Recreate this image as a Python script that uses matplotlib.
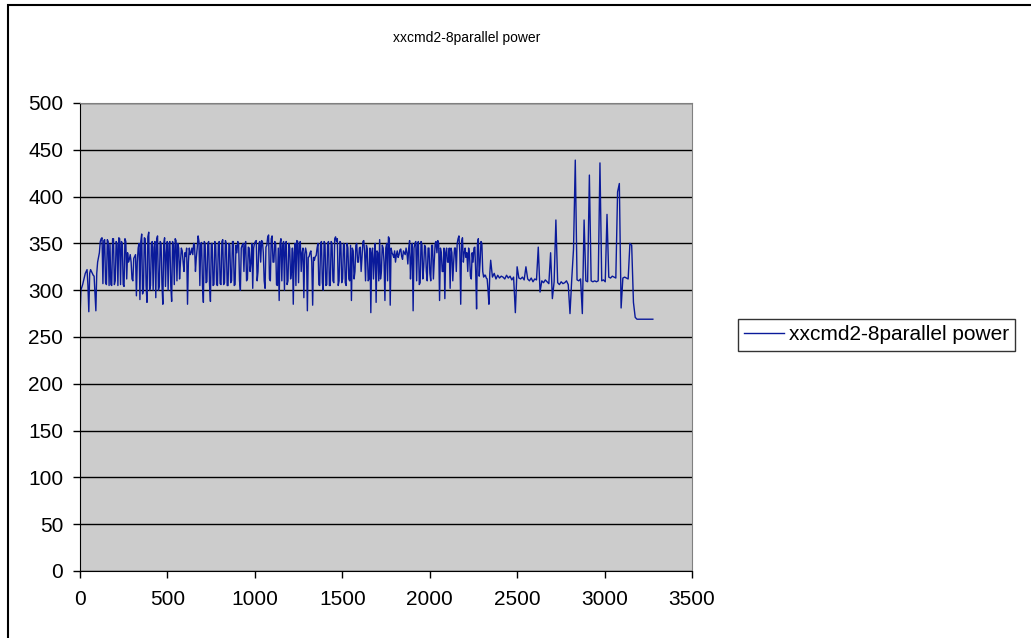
import numpy as np
import matplotlib
matplotlib.use("Agg")
import matplotlib.pyplot as plt
from matplotlib.patches import Rectangle

title = "xxcmd2-8parallel power"
series_name = "xxcmd2-8parallel power"
x_ticks = [0, 500, 1000, 1500, 2000, 2500, 3000, 3500]
y_ticks = [0, 50, 100, 150, 200, 250, 300, 350, 400, 450, 500]
time_scale = 1.008

# busy phase, sampled every 5 s (0 .. 2330)
busy_power = [
    268, 300, 303, 306, 310, 314, 318, 320, 322, 305, 277, 318, 322, 320, 318, 316, 315, 296, 278, 318,
    330, 335, 340, 352, 355, 356, 307, 353, 354, 308, 306, 354, 352, 305, 349, 306, 305, 355, 355, 306,
    310, 352, 350, 305, 356, 355, 306, 352, 350, 306, 304, 355, 352, 312, 340, 330, 333, 338, 330, 312,
    310, 334, 336, 338, 294, 330, 345, 350, 290, 352, 360, 296, 300, 356, 355, 305, 287, 357, 362, 300,
    305, 350, 352, 300, 346, 352, 292, 355, 358, 300, 304, 352, 350, 306, 285, 350, 356, 304, 340, 352,
    300, 350, 352, 305, 288, 352, 348, 306, 355, 353, 310, 350, 345, 312, 330, 345, 342, 330, 320, 340,
    336, 345, 285, 330, 345, 338, 340, 345, 338, 350, 348, 320, 335, 345, 358, 352, 305, 350, 351, 305,
    287, 352, 350, 308, 309, 350, 352, 306, 288, 350, 350, 305, 306, 352, 348, 306, 305, 350, 352, 307,
    306, 352, 354, 306, 308, 353, 350, 305, 305, 350, 348, 308, 310, 352, 352, 305, 306, 348, 340, 352,
    350, 310, 300, 345, 348, 350, 320, 348, 352, 310, 312, 346, 345, 320, 330, 350, 302, 345, 350, 352,
    353, 310, 320, 350, 352, 330, 353, 352, 340, 310, 302, 346, 348, 357, 359, 312, 310, 355, 358, 330,
    330, 352, 350, 306, 305, 345, 289, 350, 355, 310, 348, 352, 300, 350, 352, 306, 310, 350, 345, 312,
    320, 345, 285, 340, 350, 305, 353, 352, 308, 350, 352, 320, 340, 345, 292, 338, 345, 340, 278, 335,
    336, 340, 342, 330, 284, 335, 332, 336, 337, 345, 350, 306, 305, 350, 352, 308, 300, 352, 350, 305,
    306, 350, 352, 305, 305, 352, 350, 310, 308, 355, 357, 352, 355, 305, 310, 352, 350, 308, 312, 350,
    348, 308, 305, 350, 345, 312, 310, 348, 289, 345, 342, 312, 320, 348, 350, 330, 330, 345, 346, 320,
    335, 352, 353, 340, 310, 348, 344, 310, 312, 345, 276, 340, 345, 312, 335, 350, 287, 342, 340, 310,
    354, 312, 320, 348, 345, 330, 289, 345, 350, 310, 357, 355, 284, 345, 340, 338, 335, 342, 330, 338,
    342, 335, 338, 343, 344, 336, 333, 342, 340, 338, 345, 340, 328, 345, 353, 312, 335, 350, 278, 345,
    350, 352, 310, 350, 352, 306, 308, 352, 349, 312, 325, 348, 346, 320, 310, 345, 345, 318, 310, 348,
    348, 312, 330, 350, 352, 340, 353, 350, 289, 345, 340, 320, 320, 345, 291, 340, 345, 330, 330, 345,
    302, 345, 340, 310, 330, 345, 345, 320, 350, 355, 358, 340, 285, 352, 356, 330, 340, 345, 335, 340,
    320, 345, 338, 315, 312, 340, 330, 345, 346, 320, 280, 350, 355, 315, 330, 352, 350, 320, 314, 316,
    316, 313, 312, 300, 285, 318, 332,
]

# quieter phase, sampled every 10 s (2340 .. end)
tail_power = [
    314, 318, 312, 316, 313, 315,
    314, 312, 316, 313, 315, 311, 314, 276, 325, 313,
    312, 314, 311, 325, 312, 310, 313, 309, 312, 311,
    346, 298, 310, 308, 311, 309, 307, 340, 291, 309,
    375, 308, 306, 309, 307, 308, 310, 306, 275, 312,
    344, 439, 311, 310, 312, 275, 375, 310, 309, 423,
    310, 309, 310, 309, 310, 436, 310, 311, 309, 381,
    314, 313, 315, 314, 313, 405, 414, 281, 313, 314,
    313, 312, 350, 348, 287, 271, 269, 269, 269, 269,
    269, 269, 269, 269, 269, 269,
]

busy_t = np.arange(len(busy_power)) * 5.0
tail_t = busy_t[-1] + 10.0 + np.arange(len(tail_power)) * 10.0
time = np.concatenate([busy_t, tail_t]) * time_scale
power = np.array(busy_power + tail_power, dtype=float)

W, H = 1031, 638
fig = plt.figure(figsize=(W / 100, H / 100), dpi=100)
plt.rcParams['font.family'] = ['Liberation Sans', 'DejaVu Sans']

# outer chart border
fig.patches.append(Rectangle((8 / W, -0.1), 1.2, 1.1 - 5 / H,
                             transform=fig.transFigure, fill=False,
                             edgecolor='black', linewidth=1.5))

L, R, T, B = 80, 692, 103, 571
ax = fig.add_axes([L / W, 1 - B / H, (R - L) / W, (B - T) / H])
ax.set_facecolor('#CCCCCC')
ax.plot(time, power, color='#0A1A9A', linewidth=1.0, label=series_name)

ax.set_xlim(0, 3500)
ax.set_ylim(0, 500)
ax.set_xticks(x_ticks)
ax.set_yticks(y_ticks)
ax.set_xticklabels([str(v) for v in x_ticks])
ax.set_yticklabels([str(v) for v in y_ticks])
ax.yaxis.grid(True, color='black', linewidth=1.0)
ax.set_axisbelow(True)
ax.tick_params(axis='both', direction='out', length=5, width=1, labelsize=15)
ax.tick_params(axis='x', pad=9)
ax.tick_params(axis='y', pad=7)
for s in ['top', 'right']:
    ax.spines[s].set_color('#808080')
for s in ['left', 'bottom']:
    ax.spines[s].set_color('black')

fig.text(467 / W, 1 - 38 / H, title, ha='center', va='center', fontsize=10)

leg = fig.legend(loc='upper left', bbox_to_anchor=(738 / W, 1 - 319 / H),
                 bbox_transform=fig.transFigure, fontsize=15, frameon=True,
                 fancybox=False, borderpad=0.3, handlelength=1.9,
                 handletextpad=0.25, borderaxespad=0)
leg.get_frame().set_edgecolor('black')
leg.get_frame().set_linewidth(1.0)

fig.savefig('out.png', dpi=100)
